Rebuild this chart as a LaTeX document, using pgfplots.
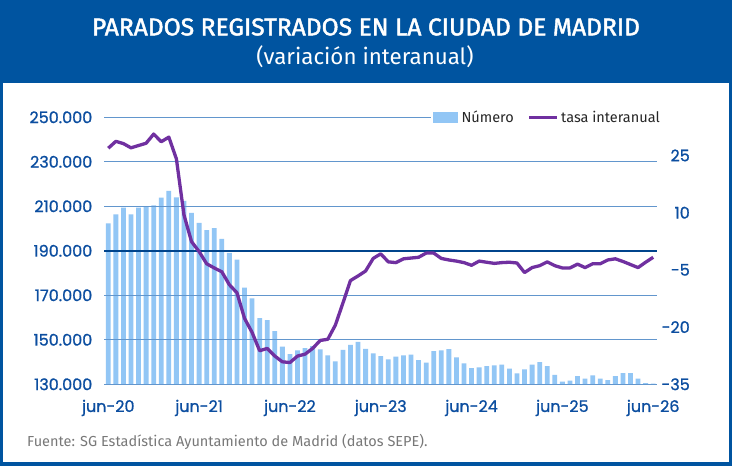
\documentclass[border=0pt]{standalone}
\usepackage{graphicx}
\usepackage{pgfplots}
\usepackage{pgfplotstable}
\pgfplotsset{compat=1.18}
\usepackage{fontspec}
\setmainfont{Fira Sans}
\newfontfamily\tickfont{Poppins}[FakeBold=1.0]
\newfontfamily\titlefont{Fira Sans}[FakeBold=1.8]

\definecolor{bandblue}{RGB}{0,84,160}
\definecolor{barblue}{RGB}{146,198,245}
\definecolor{linepurple}{RGB}{112,48,160}
\definecolor{gridblue}{RGB}{98,150,205}
\definecolor{zeroblue}{RGB}{0,68,140}
\definecolor{ticknavy}{RGB}{12,78,160}
\definecolor{footgray}{RGB}{120,120,120}

% Parados registrados (num) y tasa interanual en % (tasa), jun-20 .. jun-26
\pgfplotstableread{
idx num tasa
0 202300 26.9
1 206400 28.7
2 209400 28.1
3 206400 27.0
4 209400 27.6
5 209700 28.2
6 210400 30.6
7 213900 28.6
8 216900 29.8
9 214000 24.1
10 212400 9.4
11 207000 2.4
12 202600 -0.2
13 199300 -3.4
14 200200 -4.5
15 195400 -5.5
16 189100 -8.9
17 186000 -11.0
18 173400 -17.7
19 168600 -21.4
20 159700 -26.2
21 158800 -25.6
22 153900 -27.6
23 146900 -29.1
24 143600 -29.3
25 145200 -27.6
26 146300 -27.1
27 147200 -25.6
28 145700 -23.5
29 143000 -23.2
30 140300 -19.5
31 145500 -13.7
32 147700 -7.8
33 149100 -6.6
34 145900 -5.3
35 143900 -2.0
36 142700 -0.8
37 141200 -2.9
38 142400 -3.1
39 143000 -2.1
40 143300 -1.9
41 140900 -1.7
42 139700 -0.6
43 144900 -0.6
44 145200 -2.0
45 145800 -2.4
46 142100 -2.7
47 139400 -3.1
48 137300 -3.8
49 137600 -2.7
50 138200 -3.0
51 138500 -3.3
52 138800 -3.1
53 137000 -3.0
54 134900 -3.2
55 136700 -5.7
56 138800 -4.4
57 140000 -3.9
58 138200 -2.9
59 134200 -3.9
60 131200 -4.5
61 131600 -4.5
62 133700 -3.5
63 132500 -4.4
64 134000 -3.4
65 132500 -3.4
66 131900 -2.4
67 133700 -2.1
68 135000 -2.8
69 135000 -3.6
70 132500 -4.4
71 130500 -3.0
72 130300 -1.7
}\datatable

\begin{document}
\begin{tikzpicture}[x=1pt,y=1pt]
% marco: el área del gráfico empieza en (0,0)
\useasboundingbox (-104.5,-81.7) rectangle (627.5,384.3);
\fill[bandblue] (-104.5,-81.7) rectangle (627.5,384.3);
\fill[white] (-101.5,-77.7) rectangle (624.5,301.3);

\node[white, inner sep=0pt] at (261.5,357.3)
  {\resizebox{548pt}{17pt}{\titlefont PARADOS REGISTRADOS EN LA CIUDAD DE MADRID}};
\node[white, inner sep=0pt] at (260.5,327.3)
  {\resizebox{217pt}{!}{\fontsize{20}{24}\selectfont (variación interanual)}};
\node[footgray, anchor=west, inner sep=0pt] at (-77.5,-57.7)
  {\fontsize{14.5}{16}\selectfont Fuente: SG Estadística Ayuntamiento de Madrid (datos SEPE).};

% Barras: número de parados (eje izquierdo)
\begin{axis}[
  at={(0pt,0pt)}, anchor=south west,
  width=552.5pt, height=267pt, scale only axis,
  xmin=-0.5, xmax=72.5, ymin=130000, ymax=250000,
  axis line style={draw=none}, tick style={draw=none},
  xtick={0,12,24,36,48,60,72},
  xticklabels={jun-20,jun-21,jun-22,jun-23,jun-24,jun-25,jun-26},
  ytick={130000,150000,170000,190000,210000,230000,250000},
  scaled y ticks=false,
  ymajorgrids, major grid style={gridblue, line width=1pt},
  /pgf/number format/assume math mode=true,
  /pgf/number format/fixed,
  /pgf/number format/precision=0,
  /pgf/number format/1000 sep={.},
  ticklabel style={font=\tickfont\fontsize{16}{18}\selectfont, text=ticknavy, inner sep=0pt},
  yticklabel style={anchor=east, xshift=-12pt},
  xticklabel style={anchor=north, yshift=-11pt},
  axis on top,
  ybar, bar width=4.8pt,
]
\addplot[fill=barblue, draw=none] table[x=idx, y=num] {\datatable};
\end{axis}

% Línea: tasa interanual (eje derecho)
\begin{axis}[
  at={(0pt,0pt)}, anchor=south west,
  width=552.5pt, height=267pt, scale only axis,
  xmin=-0.5, xmax=72.5, ymin=-35, ymax=35,
  axis x line=none, axis y line*=right,
  axis line style={draw=none}, tick style={draw=none},
  ytick={-35,-20,-5,10,25},
  extra y ticks={0}, extra y tick labels={},
  extra y tick style={ymajorgrids=true, major grid style={zeroblue, line width=2pt}},
  /pgf/number format/assume math mode=true,
  yticklabel style={font=\tickfont\fontsize{16}{18}\selectfont, text=ticknavy, inner sep=0pt,
    anchor=east, xshift=33pt},
  legend style={at={(1,1)}, anchor=east, xshift=7pt, draw=none, fill=white,
    font=\fontsize{14.5}{17}\selectfont, text=black!85, inner sep=2pt,
    /tikz/every even column/.append style={column sep=12pt},
    /tikz/every odd column/.append style={}},
  legend columns=-1,
]
\addlegendimage{legend image code/.code={\fill[barblue] (0pt,-5pt) rectangle (24pt,5pt);}}
\addlegendentry{\hspace{2pt}Número}
\addplot[linepurple, line width=3.3pt, line join=round,
  legend image code/.code={\draw[linepurple, line width=3.3pt] (0pt,0pt) -- (28pt,0pt);}]
  table[x=idx, y=tasa] {\datatable};
\addlegendentry{tasa interanual}
\end{axis}
\end{tikzpicture}
\end{document}
